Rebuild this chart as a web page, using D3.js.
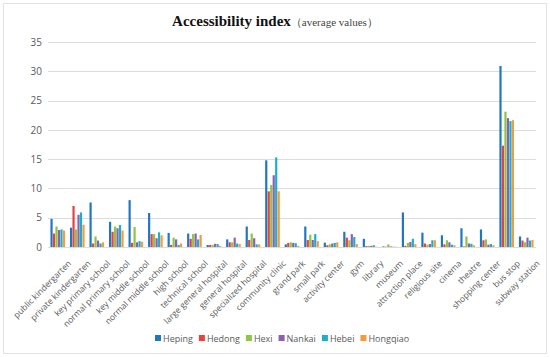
<!DOCTYPE html>
<html>
<head>
<meta charset="utf-8">
<script src="https://cdn.jsdelivr.net/npm/d3@7"></script>
<style>
  body { margin: 0; background: #fff; }
  svg { display: block; }
</style>
</head>
<body>
<div id="chart"></div>
<script>
// categories along the x axis
const categories = ["public kindergarten", "private kindergarten", "key primary school", "normal primary school",
  "key middle school", "normal middle school", "high school", "technical school", "large general hospital",
  "general hospital", "specialized hospital", "community clinic", "grand park", "small park", "activity center",
  "gym", "library", "museum", "attraction place", "religious site", "cinema", "theatre", "shopping center",
  "bus stop", "subway station"];

const seriesNames = ["Heping", "Hedong", "Hexi", "Nankai", "Hebei", "Hongqiao"];

// values, one array per district
const heping   = [4.8, 3.3, 7.6, 4.3, 8.0, 5.8, 2.4, 2.3, 0.35, 1.3, 3.5, 14.8, 0.45, 3.5, 0.75, 2.6, 1.4, 0.1, 5.9, 2.45, 2.0, 3.2, 3.0, 30.9, 1.8];
const hedong   = [2.3, 7.0, 0.6, 2.6, 0.7, 2.2, 0.35, 1.4, 0.35, 0.8, 1.2, 9.5, 0.7, 1.2, 0.3, 1.6, 0.15, 0.05, 0.2, 0.6, 0.45, 0.1, 1.15, 17.3, 1.1];
const hexi     = [3.5, 3.0, 1.8, 3.5, 3.4, 2.2, 1.6, 2.2, 0.35, 0.8, 2.3, 10.6, 0.8, 2.1, 0.45, 1.15, 0.2, 0.45, 0.7, 0.4, 1.15, 1.8, 1.3, 23.1, 0.8];
const nankai   = [2.9, 5.5, 1.1, 3.2, 0.8, 1.5, 1.3, 2.3, 0.55, 1.6, 1.5, 12.25, 0.7, 1.2, 0.6, 2.2, 0.2, 0.1, 0.85, 0.5, 0.8, 0.6, 0.4, 22.0, 1.6];
const hebei    = [3.0, 5.9, 0.6, 3.75, 1.0, 2.5, 0.35, 1.3, 0.5, 0.6, 0.45, 15.3, 0.65, 2.2, 0.7, 1.7, 0.3, 0.05, 1.4, 1.15, 0.4, 0.55, 0.5, 21.5, 1.1];
const hongqiao = [2.8, 3.8, 0.8, 2.8, 0.9, 2.0, 0.6, 2.05, 0.2, 0.5, 0.45, 9.5, 0.2, 1.0, 0.8, 0.5, 0.05, 0.05, 0.5, 1.15, 0.3, 0.3, 0.3, 21.65, 1.2];

const yTicks = [0, 5, 10, 15, 20, 25, 30, 35];

const colors = ["#1f77c3", "#e8413f", "#8dc63f", "#8e5fb1", "#17b0cf", "#f89a3c"];

function main() {
    const W = 550, H = 357;
    const margin = {top: 42, right: 14, bottom: 110, left: 48},
        width = W - margin.left - margin.right,
        height = H - margin.top - margin.bottom;

    const allSeries = [heping, hedong, hexi, nankai, hebei, hongqiao];
    const data = categories.map((c, i) => ({
        cat: c,
        vals: seriesNames.map((s, j) => ({name: s, value: allSeries[j][i]}))
    }));

    const svg = d3.select("#chart")
        .append("svg")
        .attr("width", W)
        .attr("height", H);

    // outer frame
    svg.append("rect")
        .attr("x", 3.5).attr("y", 3.5)
        .attr("width", W - 7).attr("height", H - 7)
        .attr("fill", "none")
        .attr("stroke", "#e3e3e3");

    // title
    const title = svg.append("text")
        .attr("x", 275)
        .attr("y", 26)
        .attr("text-anchor", "middle")
        .attr("font-family", "'Liberation Serif', 'Times New Roman', serif")
        .attr("fill", "#111");
    title.append("tspan")
        .attr("font-size", "15px")
        .attr("font-weight", "bold")
        .text("Accessibility index");
    title.append("tspan")
        .attr("font-size", "11px")
        .attr("fill", "#444")
        .text("（average values）");

    const g = svg.append("g")
        .attr("transform", `translate(${margin.left},${margin.top})`);

    const x = d3.scaleBand()
        .domain(categories)
        .range([0, width])
        .paddingInner(0.22)
        .paddingOuter(0.11);

    const x1 = d3.scaleBand()
        .domain(seriesNames)
        .range([0, x.bandwidth()])
        .padding(0.12);

    const y = d3.scaleLinear()
        .domain([0, 35])
        .range([height, 0]);

    // gridlines
    g.append("g")
        .selectAll("line")
        .data(yTicks)
        .enter()
        .append("line")
        .attr("x1", 0)
        .attr("x2", width)
        .attr("y1", d => Math.round(y(d)) + 0.5)
        .attr("y2", d => Math.round(y(d)) + 0.5)
        .attr("stroke", "#dcdcdc")
        .attr("stroke-width", 1);

    // y axis labels
    const yAxis = d3.axisLeft(y).tickValues(yTicks).tickSize(0).tickPadding(6);
    g.append("g")
        .call(yAxis)
        .call(a => a.select(".domain").remove())
        .selectAll("text")
        .attr("font-family", "'Open Sans', sans-serif")
        .attr("font-size", "10px")
        .attr("fill", "#595959");

    // bars
    g.append("g")
        .selectAll("g")
        .data(data)
        .enter()
        .append("g")
        .attr("transform", d => `translate(${x(d.cat)},0)`)
        .selectAll("rect")
        .data(d => d.vals)
        .enter()
        .append("rect")
        .attr("x", d => x1(d.name))
        .attr("y", d => y(d.value))
        .attr("width", x1.bandwidth())
        .attr("height", d => height - y(d.value))
        .attr("fill", (d, j) => colors[j]);

    // x axis labels, rotated
    const xAxis = d3.axisBottom(x).tickSize(0).tickPadding(0);
    const xa = g.append("g")
        .attr("transform", `translate(0,${height})`)
        .call(xAxis);
    xa.select(".domain").remove();
    xa.selectAll("text")
        .attr("font-family", "'Open Sans', sans-serif")
        .attr("font-size", "8.5px")
        .attr("fill", "#595959")
        .attr("text-anchor", "end")
        .attr("dy", 0)
        .attr("transform", "translate(14,17) rotate(-45)");

    // legend
    const legend = svg.append("g")
        .attr("transform", "translate(155,339)");
    let lx = 0;
    seriesNames.forEach((s, j) => {
        const item = legend.append("g").attr("transform", `translate(${lx},0)`);
        item.append("rect")
            .attr("x", 0).attr("y", -4)
            .attr("width", 6).attr("height", 6)
            .attr("fill", colors[j]);
        const t = item.append("text")
            .attr("x", 8)
            .attr("y", 2.5)
            .attr("font-family", "'Open Sans', sans-serif")
            .attr("font-size", "9px")
            .attr("fill", "#595959")
            .text(s);
        lx += 8 + t.node().getComputedTextLength() + 6;
    });
}

main()
</script>
</body>
</html>
